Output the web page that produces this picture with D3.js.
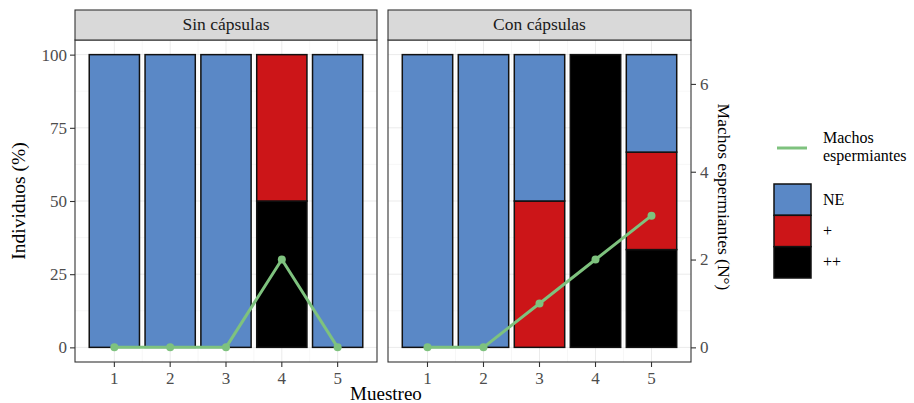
<!DOCTYPE html>
<html>
<head>
<meta charset="utf-8">
<script src="https://cdn.jsdelivr.net/npm/d3@7"></script>
<style>
  html, body { margin: 0; padding: 0; background: #fff; }
  svg text { font-family: "Liberation Serif", "Times New Roman", serif; }
</style>
</head>
<body>
<svg id="chart" width="914" height="403"></svg>
<script>
// Sampling rounds and facet panels
const muestreos = ["1", "2", "3", "4", "5"];
const paneles = ["Sin cápsulas", "Con cápsulas"];
const categorias = ["NE", "+", "++"];

// Percentage of individuals per maturity class, per panel
const sinNE      = [100, 100, 100, 0, 100];
const sinMas     = [0, 0, 0, 50, 0];
const sinMasMas  = [0, 0, 0, 50, 0];
const conNE      = [100, 100, 50, 0, 33.3];
const conMas     = [0, 0, 50, 0, 33.3];
const conMasMas  = [0, 0, 0, 100, 33.4];

// Number of spermiating males per sampling round
const machosSin = [0, 0, 0, 2, 0];
const machosCon = [0, 0, 1, 2, 3];

// Axis ticks
const ticksPct = [0, 25, 50, 75, 100];
const ticksMachos = [0, 2, 4, 6];
const factorSec = 15; // secondary axis: males = percent / 15

const colores = { "NE": "#5a88c6", "+": "#cc1518", "++": "#000000" };
const verde = "#7ec27e";

const datos = [
  { panel: paneles[0], NE: sinNE, mas: sinMas, masmas: sinMasMas, machos: machosSin },
  { panel: paneles[1], NE: conNE, mas: conMas, masmas: conMasMas, machos: machosCon }
];

const svg = d3.select("#chart");
const yTop = 40, yBottom = 362, stripTop = 10;
const panelX = [[75, 377], [388, 691]];

const y = d3.scaleLinear().domain([-5, 105]).range([yBottom, yTop]);
const y2 = d3.scaleLinear().domain([-5 / factorSec, 105 / factorSec]).range([yBottom, yTop]);

datos.forEach((d, i) => {
  const [x0, x1] = panelX[i];
  const x = d3.scaleBand().domain(muestreos).range([x0, x1])
    .paddingInner(0.1).paddingOuter(0.255);
  const g = svg.append("g");

  // panel background
  g.append("rect").attr("x", x0).attr("y", yTop).attr("width", x1 - x0).attr("height", yBottom - yTop)
    .attr("fill", "#fff");

  // minor grid
  const minorY = d3.range(0, 100, 25).map(v => v + 12.5);
  g.selectAll(".gminy").data(minorY).join("line")
    .attr("x1", x0).attr("x2", x1).attr("y1", v => y(v)).attr("y2", v => y(v))
    .attr("stroke", "#f2f2f2").attr("stroke-width", 0.6);
  const minorX = muestreos.slice(1).map(m => x(m) - x.step() * 0.05);
  g.selectAll(".gminx").data(minorX).join("line")
    .attr("x1", v => v).attr("x2", v => v).attr("y1", yTop).attr("y2", yBottom)
    .attr("stroke", "#f2f2f2").attr("stroke-width", 0.6);
  // major grid
  g.selectAll(".gy").data(ticksPct).join("line")
    .attr("x1", x0).attr("x2", x1).attr("y1", v => y(v)).attr("y2", v => y(v))
    .attr("stroke", "#ebebeb").attr("stroke-width", 1);
  g.selectAll(".gx").data(muestreos).join("line")
    .attr("x1", m => x(m) + x.bandwidth() / 2).attr("x2", m => x(m) + x.bandwidth() / 2)
    .attr("y1", yTop).attr("y2", yBottom)
    .attr("stroke", "#ebebeb").attr("stroke-width", 1);

  // stacked bars: ++ at the bottom, then +, then NE
  const filas = muestreos.map((m, j) => ({ m, "++": d.masmas[j], "+": d.mas[j], "NE": d.NE[j] }));
  const serie = d3.stack().keys(["++", "+", "NE"])(filas);
  serie.forEach(s => {
    g.selectAll(null).data(s.filter(p => p[1] - p[0] > 0)).join("rect")
      .attr("x", p => x(p.data.m))
      .attr("width", x.bandwidth())
      .attr("y", p => y(p[1]))
      .attr("height", p => y(p[0]) - y(p[1]))
      .attr("fill", colores[s.key])
      .attr("stroke", "#111")
      .attr("stroke-width", 1.5);
  });

  // spermiating males line
  const linea = d3.line()
    .x((v, j) => x(muestreos[j]) + x.bandwidth() / 2)
    .y(v => y2(v));
  g.append("path").attr("d", linea(d.machos))
    .attr("fill", "none").attr("stroke", verde).attr("stroke-width", 3)
    .attr("stroke-linejoin", "round");
  g.selectAll(".pt").data(d.machos).join("circle")
    .attr("cx", (v, j) => x(muestreos[j]) + x.bandwidth() / 2)
    .attr("cy", v => y2(v)).attr("r", 4).attr("fill", verde);

  // panel border
  g.append("rect").attr("x", x0).attr("y", yTop).attr("width", x1 - x0).attr("height", yBottom - yTop)
    .attr("fill", "none").attr("stroke", "#333").attr("stroke-width", 1.1);

  // strip
  g.append("rect").attr("x", x0).attr("y", stripTop).attr("width", x1 - x0).attr("height", yTop - stripTop)
    .attr("fill", "#d9d9d9").attr("stroke", "#333").attr("stroke-width", 1.1);
  g.append("text").attr("x", (x0 + x1) / 2).attr("y", 30).attr("text-anchor", "middle")
    .attr("font-size", 17.5).attr("fill", "#1a1a1a").text(d.panel);

  // x axis
  const ax = d3.axisBottom(x).tickSize(5).tickPadding(3).tickSizeOuter(0);
  const gx = g.append("g").attr("transform", `translate(0,${yBottom})`).call(ax);
  gx.select(".domain").remove();
  gx.selectAll(".tick line").attr("stroke", "#333").attr("stroke-width", 1.1);
  gx.selectAll(".tick text").attr("font-size", 17).attr("fill", "#4d4d4d")
    .attr("font-family", "Liberation Serif, serif").attr("dy", "0.8em");

  if (i === 0) {
    const ay = d3.axisLeft(y).tickValues(ticksPct).tickSize(5).tickPadding(3);
    const gy = g.append("g").attr("transform", `translate(${x0},0)`).call(ay);
    gy.select(".domain").remove();
    gy.selectAll(".tick line").attr("stroke", "#333").attr("stroke-width", 1.1);
    gy.selectAll(".tick text").attr("font-size", 17).attr("fill", "#4d4d4d")
      .attr("font-family", "Liberation Serif, serif");
  } else {
    const ay2 = d3.axisRight(y2).tickValues(ticksMachos).tickSize(5).tickPadding(4);
    const gy2 = g.append("g").attr("transform", `translate(${x1},0)`).call(ay2);
    gy2.select(".domain").remove();
    gy2.selectAll(".tick line").attr("stroke", "#333").attr("stroke-width", 1.1);
    gy2.selectAll(".tick text").attr("font-size", 17).attr("fill", "#4d4d4d")
      .attr("font-family", "Liberation Serif, serif");
  }
});

// axis titles
svg.append("text").attr("transform", `translate(25,${(yTop + yBottom) / 2}) rotate(-90)`)
  .attr("text-anchor", "middle").attr("font-size", 19.5).text("Individuos (%)");
svg.append("text").attr("transform", `translate(718,${(yTop + yBottom) / 2 - 4}) rotate(90)`)
  .attr("text-anchor", "middle").attr("font-size", 17.5).text("Machos espermiantes (N°)");
svg.append("text").attr("x", 386).attr("y", 400).attr("text-anchor", "middle")
  .attr("font-size", 19).text("Muestreo");

// legend: line key
const leg = svg.append("g");
leg.append("line").attr("x1", 777).attr("x2", 807).attr("y1", 148).attr("y2", 148)
  .attr("stroke", verde).attr("stroke-width", 3);
leg.append("text").attr("x", 823).attr("y", 143).attr("font-size", 16).text("Machos");
leg.append("text").attr("x", 823).attr("y", 161).attr("font-size", 16).text("espermiantes");

// legend: fill keys
const keyY = d3.scaleBand().domain(categorias).range([184, 278]);
leg.selectAll(".k").data(categorias).join("rect")
  .attr("x", 774).attr("width", 37)
  .attr("y", c => keyY(c)).attr("height", keyY.bandwidth())
  .attr("fill", c => colores[c]).attr("stroke", "#111").attr("stroke-width", 1.5);
leg.selectAll(".kt").data(categorias).join("text")
  .attr("x", 823).attr("y", c => keyY(c) + keyY.bandwidth() / 2 + 5)
  .attr("font-size", 16).text(c => c);
</script>
</body>
</html>
